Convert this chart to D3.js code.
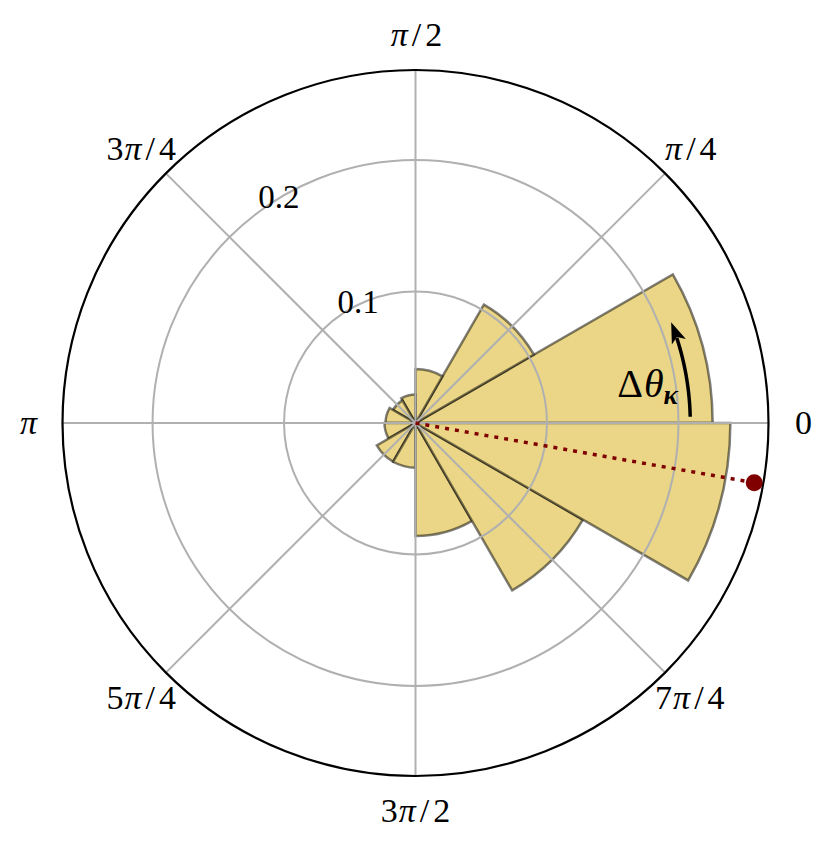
<!DOCTYPE html>
<html>
<head>
<meta charset="utf-8">
<script src="https://cdn.jsdelivr.net/npm/d3@7"></script>
<style>
  body { margin: 0; background: #fff; }
  text { font-family: "Liberation Serif", "DejaVu Serif", serif; fill: #000; }
</style>
</head>
<body>
<div id="chart"></div>
<script>
// histogram of angles, 12 bins of 30 degrees
const binStartDeg = [0, 30, 60, 90, 120, 150, 180, 210, 240, 270, 300, 330];
const binWidthDeg = 30;
const density = [0.226, 0.104, 0.041, 0.0217, 0.0198, 0.0228, 0.0236, 0.034, 0.034, 0.086, 0.147, 0.2395];

// axis ticks
const thetaTicksDeg = [0, 45, 90, 135, 180, 225, 270, 315];
const thetaTickLabels = ["0", "π/4", "π/2", "3π/4", "π", "5π/4", "3π/2", "7π/4"];
const rTicks = [0.1, 0.2];
const rTickLabels = ["0.1", "0.2"];
const rMax = 0.2685;

// mean direction marker and the delta-theta arrow
const kappaDeg = -10;
const kappaR = 0.2616;
const arrowDeg = [1.3, 21.5];
const arrowR = 0.209;

const width = 830;
const height = 846;
const cx = 415.5, cy = 423;
const R = 353;

const rad = d => d * Math.PI / 180;
const y = d3.scaleLinear().domain([0, rMax]).range([0, R]);
// polar -> svg coords (theta counter-clockwise from east)
const pt = (deg, r) => [cx + y(r) * Math.cos(rad(deg)), cy - y(r) * Math.sin(rad(deg))];

const svg = d3.select("#chart").append("svg")
  .attr("width", width)
  .attr("height", height);

const g = svg.append("g").attr("transform", `translate(${cx},${cy})`);

// bars (d3.arc angles are clockwise from north)
const arc = d3.arc()
  .innerRadius(0)
  .outerRadius(d => y(d.v))
  .startAngle(d => Math.PI / 2 - rad(d.a + binWidthDeg))
  .endAngle(d => Math.PI / 2 - rad(d.a));

const bars = binStartDeg.map((a, i) => ({a: a, v: density[i]}));

g.selectAll("path.bar")
  .data(bars)
  .enter()
  .append("path")
  .attr("class", "bar")
  .attr("d", arc)
  .attr("fill", "#ead686")
  .attr("stroke", "#000")
  .attr("stroke-opacity", 0.5)
  .attr("stroke-width", 2.5)
  .attr("stroke-linejoin", "miter");

// grid
g.selectAll("circle.grid")
  .data(rTicks)
  .enter()
  .append("circle")
  .attr("r", d => y(d))
  .attr("fill", "none")
  .attr("stroke", "#b0b0b0")
  .attr("stroke-width", 2);

g.selectAll("line.grid")
  .data(thetaTicksDeg)
  .enter()
  .append("line")
  .attr("x1", 0).attr("y1", 0)
  .attr("x2", d => R * Math.cos(rad(d)))
  .attr("y2", d => -R * Math.sin(rad(d)))
  .attr("stroke", "#b0b0b0")
  .attr("stroke-width", 2);

// outer frame
g.append("circle")
  .attr("r", R)
  .attr("fill", "none")
  .attr("stroke", "#000")
  .attr("stroke-width", 2.2);

// theta tick labels, pi in italic, a bit of room round the slash
const labelR = 388;
thetaTicksDeg.forEach((d, i) => {
  const t = svg.append("text")
    .attr("x", cx + labelR * Math.cos(rad(d)))
    .attr("y", cy - labelR * Math.sin(rad(d)))
    .attr("dy", "0.33em")
    .attr("text-anchor", "middle")
    .style("font-size", "34px");
  thetaTickLabels[i].split(/(π|\/)/).filter(s => s.length).forEach(s => {
    const ts = t.append("tspan")
      .style("font-style", s === "π" ? "italic" : "normal")
      .text(s);
    if (s === "π") ts.attr("dx", 1);
    if (s === "/") ts.attr("dx", 4);
    if (s !== "/" && s !== "π" && thetaTickLabels[i].indexOf("/") >= 0 && thetaTickLabels[i].indexOf(s) > thetaTickLabels[i].indexOf("/")) ts.attr("dx", 4);
  });
});

// radial tick labels
const rLabelDeg = 127;
rTicks.forEach((v, i) => {
  const p = pt(rLabelDeg, v);
  svg.append("text")
    .attr("x", p[0] + 1)
    .attr("y", p[1] - 5)
    .attr("text-anchor", "start")
    .style("font-size", "33px")
    .text(rTickLabels[i]);
});

// dotted line to the mean direction
const kp = pt(kappaDeg, kappaR);
svg.append("line")
  .attr("x1", cx).attr("y1", cy)
  .attr("x2", kp[0]).attr("y2", kp[1])
  .attr("stroke", "#800000")
  .attr("stroke-width", 3.5)
  .attr("stroke-dasharray", "4 6");

svg.append("circle")
  .attr("cx", kp[0]).attr("cy", kp[1])
  .attr("r", 8.5)
  .attr("fill", "#800000");

// curved arrow
const arrowLine = d3.range(arrowDeg[0], arrowDeg[1] - 3.2, 0.25).map(d => pt(d, arrowR));
svg.append("path")
  .attr("d", d3.line()(arrowLine))
  .attr("fill", "none")
  .attr("stroke", "#000")
  .attr("stroke-width", 3.5);

const tip = pt(arrowDeg[1], arrowR);
const th = rad(arrowDeg[1]);
const tx = -Math.sin(th), ty = -Math.cos(th);   // tangent (ccw)
const nx = -ty, ny = tx;
const L = 21, w = 7.5;
const head = [
  tip,
  [tip[0] - L * tx + w * nx, tip[1] - L * ty + w * ny],
  [tip[0] - 0.75 * L * tx, tip[1] - 0.75 * L * ty],
  [tip[0] - L * tx - w * nx, tip[1] - L * ty - w * ny]
];
svg.append("path")
  .attr("d", "M" + head.map(p => p.join(",")).join("L") + "Z")
  .attr("fill", "#000");

// delta theta kappa label
const lp = pt(5.7, 0.2006);
const lab = svg.append("text")
  .attr("x", lp[0])
  .attr("y", lp[1])
  .attr("text-anchor", "end")
  .style("font-size", "40px");
lab.append("tspan").text("Δ");
lab.append("tspan").attr("dx", 1).style("font-style", "italic").text("θ");
lab.append("tspan")
  .attr("dy", 7)
  .style("font-style", "italic")
  .style("font-weight", "bold")
  .style("font-size", "27px")
  .text("κ");
</script>
</body>
</html>
